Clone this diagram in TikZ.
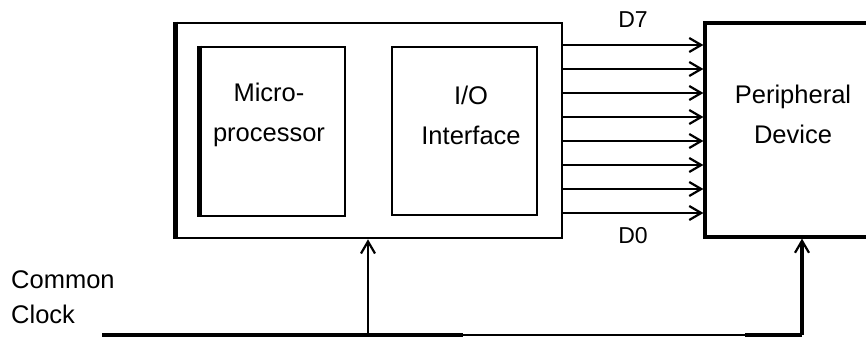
\documentclass[tikz,border=0pt]{standalone}
\usepackage{fontspec}
\setmainfont{Liberation Sans}
\usepackage{tikz}
\usetikzlibrary{arrows.meta,positioning,calc}

\begin{document}
\begin{tikzpicture}[x=1pt, y=-1pt,
  box/.style={draw=black, line width=2.6pt, inner sep=0pt},
  boxtext/.style={align=center, inner sep=0pt, font=\fontsize{25.5}{40}\selectfont},
  clktext/.style={align=left, inner sep=0pt, font=\fontsize{25.5}{35}\selectfont},
  bitlbl/.style={inner sep=0pt, font=\fontsize{23}{24}\selectfont},
  arr/.style={-{Straight Barb[length=12pt, width=14pt, line width=2.2pt]}, line width=1.8pt, draw=black},
  clkbus/.style={line width=3.2pt, draw=black}
]
  \useasboundingbox (0,0) rectangle (866,338);
  \clip (0,0) rectangle (866,338);
  % the computer with its two parts
  \node[box, minimum width=387pt, minimum height=215pt] (outer) at (368.5,130.5) {};
  \node[box, minimum width=145pt, minimum height=169pt] (cpu) at (272.5,131.5) {};
  \node[box, minimum width=145pt, minimum height=168pt] (io) at (464.5,131) {};
  \draw[line width=5pt] ([xshift=1.5pt]outer.north west) -- ([xshift=1.5pt]outer.south west);
  \draw[line width=4.5pt] ([xshift=1pt]cpu.north west) -- ([xshift=1pt]cpu.south west);
  \node[boxtext] (cputxt) at (269,115) {Micro-\\processor};
  \node[boxtext] (iotxt) at (471,115) {I/O\\Interface};
  % the device, cut off at the right
  \node[box, line width=3.2pt, minimum width=176pt, minimum height=214pt] (periph) at (793,130) {};
  \node[boxtext] (periphtxt) at (793,114) {Peripheral\\Device};
  % data lines D7 ... D0
  \foreach \y in {45,69,93,117,141,165,189,213}
    \draw[arr] (outer.east |- 0,\y) -- (periph.west |- 0,\y);
  \node[bitlbl] (dseven) at (633,20) {D7};
  \node[bitlbl] (dzero) at (633,236) {D0};
  % common clock
  \node[clktext, anchor=west] (clktxt) at (11,297) {Common\\Clock};
  \coordinate (clkstart) at (102,335);
  \coordinate (clktap) at (368,335);
  \coordinate (clkthin) at (463,335);
  \coordinate (clkthick) at (745,335);
  \coordinate (clkcorner) at (802,335);
  \draw[clkbus] (clkstart) -- (clkthin);
  \draw[line width=1.8pt] (clkthin) -- (clkthick);
  \draw[clkbus] (clkthick) -- (clkcorner);
  \draw[arr] (clktap) -- (clktap |- outer.south);
  \draw[arr, line width=3.2pt] (clkcorner) -- (clkcorner |- periph.south);
\end{tikzpicture}
\end{document}
